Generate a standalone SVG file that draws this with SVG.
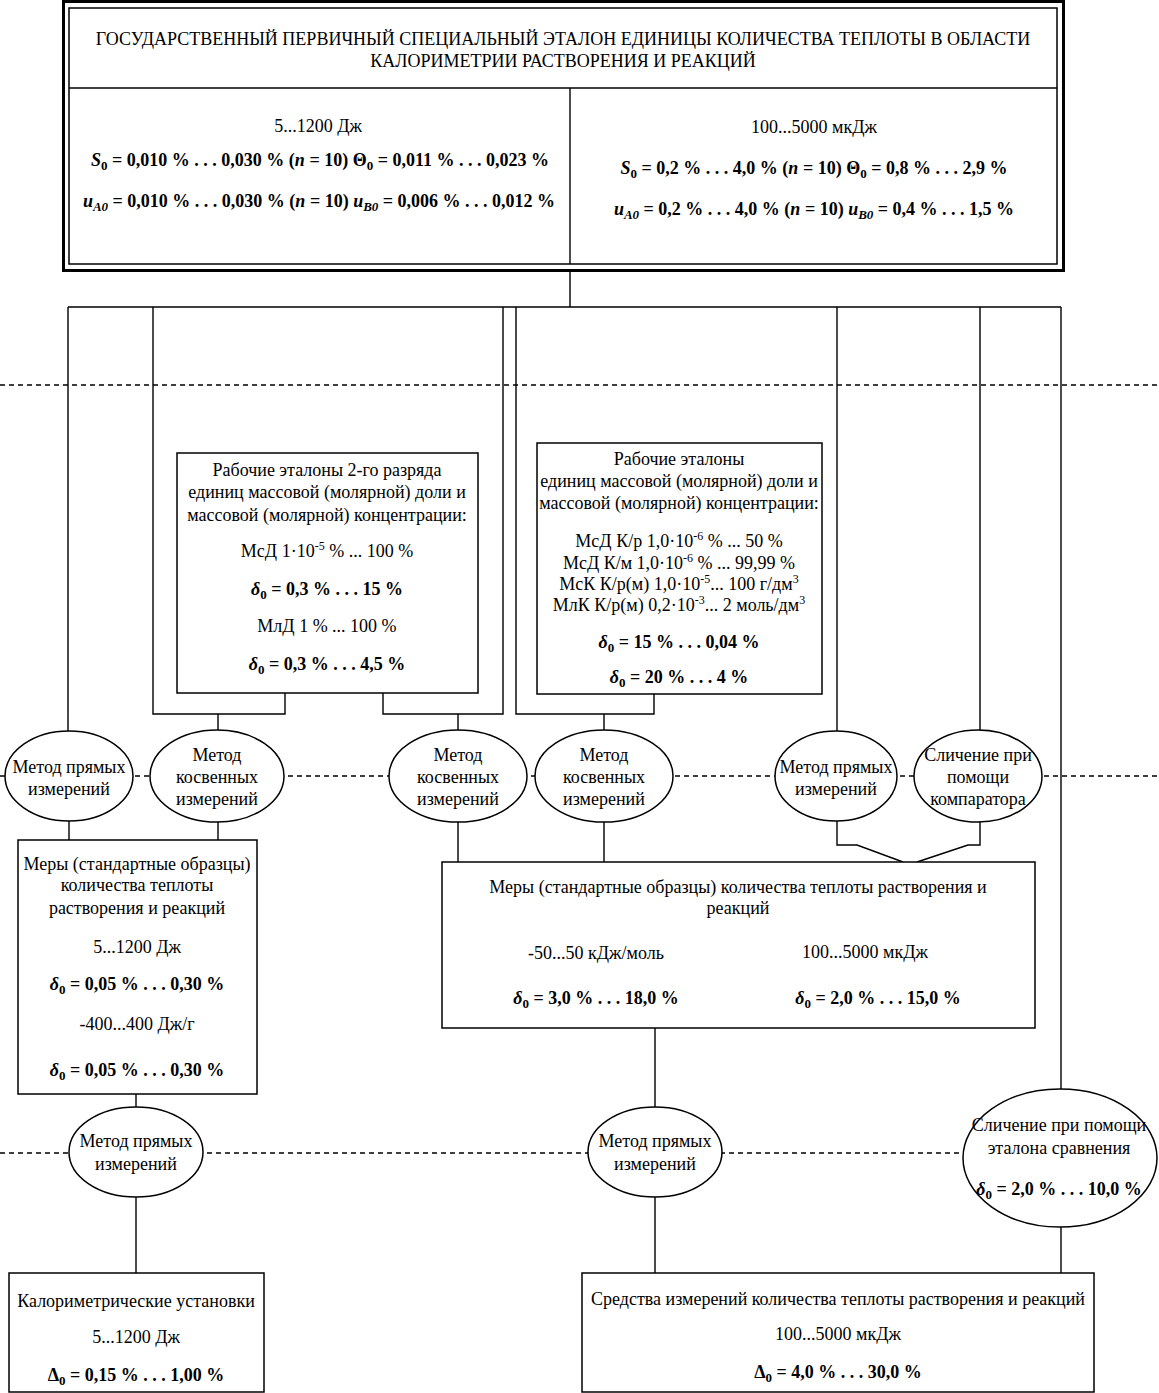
<svg xmlns="http://www.w3.org/2000/svg" width="1159" height="1393" viewBox="0 0 1159 1393" font-family="'Liberation Serif', serif">
<style>
.t{font-family:"Liberation Serif","Times New Roman",serif;font-size:18px;text-anchor:middle;fill:#000}
.h{font-size:18px}
.m{font-weight:bold}
.i{font-style:italic}
.box{fill:#fff;stroke:#000;stroke-width:1.5}
.ell{fill:#fff;stroke:#000;stroke-width:1.5}
.ln{fill:none;stroke:#000;stroke-width:1.4}
.dash{fill:none;stroke:#000;stroke-width:1.4;stroke-dasharray:5,4}
</style>
<rect width="1159" height="1393" fill="#fff"/>
<g id="dashed">
<line class="dash" x1="0" y1="385" x2="1159" y2="385"/>
<line class="dash" x1="0" y1="776" x2="1159" y2="776"/>
<line class="dash" x1="0" y1="1153" x2="1159" y2="1153"/>
</g>
<g id="connectors">
<path class="ln" d="M570,271 V307 M68,307 H1061 M68,307 V733 M153,307 V714 H285 V692 M218,714 V731 M503,307 V714 H383 V692 M458,714 V731 M516,307 V714 H654 V694 M604,714 V731 M837,307 V733 M980,307 V733 M1061,307 V1090"/>
<path class="ln" d="M69,820 V840 M218,822 V840 M458,822 V862 M604,822 V862 M837,820 V845 H857 L903,862 M980,822 V845 H968 L917,862"/>
<path class="ln" d="M136,1094 V1107 M136,1197 V1273 M655,1028 V1107 M655,1197 V1273 M1061,1227 V1273"/>
</g>
<g id="top">
<rect x="63.5" y="1.5" width="1000" height="269" fill="#fff" stroke="#000" stroke-width="3"/>
<rect x="69" y="8" width="988" height="256" fill="none" stroke="#000" stroke-width="1.5"/>
<line class="ln" x1="69" y1="88" x2="1057" y2="88"/>
<line class="ln" x1="570" y1="88" x2="570" y2="264"/>
<text class="t h" x="563" y="45">ГОСУДАРСТВЕННЫЙ ПЕРВИЧНЫЙ СПЕЦИАЛЬНЫЙ ЭТАЛОН ЕДИНИЦЫ КОЛИЧЕСТВА ТЕПЛОТЫ В ОБЛАСТИ</text>
<text class="t h" x="563" y="67">КАЛОРИМЕТРИИ РАСТВОРЕНИЯ И РЕАКЦИЙ</text>
<text class="t" x="318" y="132">5...1200 Дж</text>
<text class="t m" x="320" y="166"><tspan class="i">S</tspan><tspan font-size="13" dy="4">0</tspan><tspan dy="-4"> = 0,010 % . . . 0,030 % (</tspan><tspan class="i">n</tspan> = 10) Θ<tspan font-size="13" dy="4">0</tspan><tspan dy="-4"> = 0,011 % . . . 0,023 %</tspan></text>
<text class="t m" x="319" y="207"><tspan class="i">u</tspan><tspan class="i" font-size="13" dy="4">A0</tspan><tspan dy="-4"> = 0,010 % . . . 0,030 % (</tspan><tspan class="i">n</tspan> = 10) <tspan class="i">u</tspan><tspan class="i" font-size="13" dy="4">B0</tspan><tspan dy="-4"> = 0,006 % . . . 0,012 %</tspan></text>
<text class="t" x="814" y="133">100...5000 мкДж</text>
<text class="t m" x="814" y="174"><tspan class="i">S</tspan><tspan font-size="13" dy="4">0</tspan><tspan dy="-4"> = 0,2 % . . . 4,0 % (</tspan><tspan class="i">n</tspan> = 10) Θ<tspan font-size="13" dy="4">0</tspan><tspan dy="-4"> = 0,8 % . . . 2,9 %</tspan></text>
<text class="t m" x="814" y="215"><tspan class="i">u</tspan><tspan class="i" font-size="13" dy="4">A0</tspan><tspan dy="-4"> = 0,2 % . . . 4,0 % (</tspan><tspan class="i">n</tspan> = 10) <tspan class="i">u</tspan><tspan class="i" font-size="13" dy="4">B0</tspan><tspan dy="-4"> = 0,4 % . . . 1,5 %</tspan></text>
</g>
<g id="box1">
<rect class="box" x="177" y="453" width="301" height="240"/>
<text class="t" x="327" y="476">Рабочие эталоны 2-го разряда</text>
<text class="t" x="327" y="498">единиц массовой (молярной) доли и</text>
<text class="t" x="327" y="521">массовой (молярной) концентрации:</text>
<text class="t" x="327" y="557">МсД 1·10<tspan font-size="12" dy="-7">-5</tspan><tspan dy="7"> % ... 100 %</tspan></text>
<text class="t m" x="327" y="595"><tspan class="i">δ</tspan><tspan font-size="13" dy="4">0</tspan><tspan dy="-4"> = 0,3 % . . . 15 %</tspan></text>
<text class="t" x="327" y="632">МлД 1 % ... 100 %</text>
<text class="t m" x="327" y="670"><tspan class="i">δ</tspan><tspan font-size="13" dy="4">0</tspan><tspan dy="-4"> = 0,3 % . . . 4,5 %</tspan></text>
</g>
<g id="box2">
<rect class="box" x="537" y="443" width="285" height="251"/>
<text class="t" x="679" y="465">Рабочие эталоны</text>
<text class="t" x="679" y="487">единиц массовой (молярной) доли и</text>
<text class="t" x="679" y="509">массовой (молярной) концентрации:</text>
<text class="t" x="679" y="547">МсД К/р 1,0·10<tspan font-size="12" dy="-7">-6</tspan><tspan dy="7"> % ... 50 %</tspan></text>
<text class="t" x="679" y="569">МсД К/м 1,0·10<tspan font-size="12" dy="-7">-6</tspan><tspan dy="7"> % ... 99,99 %</tspan></text>
<text class="t" x="679" y="590">МсК К/р(м) 1,0·10<tspan font-size="12" dy="-7">-5</tspan><tspan dy="7">... 100 г/дм</tspan><tspan font-size="12" dy="-7">3</tspan></text>
<text class="t" x="679" y="611">МлК К/р(м) 0,2·10<tspan font-size="12" dy="-7">-3</tspan><tspan dy="7">... 2 моль/дм</tspan><tspan font-size="12" dy="-7">3</tspan></text>
<text class="t m" x="679" y="648"><tspan class="i">δ</tspan><tspan font-size="13" dy="4">0</tspan><tspan dy="-4"> = 15 % . . . 0,04 %</tspan></text>
<text class="t m" x="679" y="683"><tspan class="i">δ</tspan><tspan font-size="13" dy="4">0</tspan><tspan dy="-4"> = 20 % . . . 4 %</tspan></text>
</g>
<g id="e1"><ellipse class="ell" cx="69" cy="776" rx="64" ry="45"/>
<text class="t" x="69" y="773">Метод прямых</text><text class="t" x="69" y="795">измерений</text></g>
<g id="e2"><ellipse class="ell" cx="217" cy="776" rx="67" ry="46"/>
<text class="t" x="217" y="761">Метод</text><text class="t" x="217" y="783">косвенных</text><text class="t" x="217" y="805">измерений</text></g>
<g id="e3"><ellipse class="ell" cx="458" cy="776" rx="69" ry="46"/>
<text class="t" x="458" y="761">Метод</text><text class="t" x="458" y="783">косвенных</text><text class="t" x="458" y="805">измерений</text></g>
<g id="e4"><ellipse class="ell" cx="604" cy="776" rx="69" ry="46"/>
<text class="t" x="604" y="761">Метод</text><text class="t" x="604" y="783">косвенных</text><text class="t" x="604" y="805">измерений</text></g>
<g id="e5"><ellipse class="ell" cx="836" cy="776" rx="61" ry="45"/>
<text class="t" x="836" y="773">Метод прямых</text><text class="t" x="836" y="795">измерений</text></g>
<g id="e6"><ellipse class="ell" cx="978" cy="776" rx="64" ry="46"/>
<text class="t" x="978" y="761">Сличение при</text><text class="t" x="978" y="783">помощи</text><text class="t" x="978" y="805">компаратора</text></g>
<g id="box3">
<rect class="box" x="18" y="840" width="239" height="254"/>
<text class="t" x="137" y="870">Меры (стандартные образцы)</text>
<text class="t" x="137" y="891">количества теплоты</text>
<text class="t" x="137" y="914">растворения и реакций</text>
<text class="t" x="137" y="953">5...1200 Дж</text>
<text class="t m" x="137" y="990"><tspan class="i">δ</tspan><tspan font-size="13" dy="4">0</tspan><tspan dy="-4"> = 0,05 % . . . 0,30 %</tspan></text>
<text class="t" x="137" y="1030">-400...400 Дж/г</text>
<text class="t m" x="137" y="1076"><tspan class="i">δ</tspan><tspan font-size="13" dy="4">0</tspan><tspan dy="-4"> = 0,05 % . . . 0,30 %</tspan></text>
</g>
<g id="box4">
<rect class="box" x="442" y="862" width="593" height="166"/>
<text class="t" x="738" y="893">Меры (стандартные образцы) количества теплоты растворения и</text>
<text class="t" x="738" y="914">реакций</text>
<text class="t" x="596" y="959">-50...50 кДж/моль</text>
<text class="t" x="865" y="958">100...5000 мкДж</text>
<text class="t m" x="596" y="1004"><tspan class="i">δ</tspan><tspan font-size="13" dy="4">0</tspan><tspan dy="-4"> = 3,0 % . . . 18,0 %</tspan></text>
<text class="t m" x="878" y="1004"><tspan class="i">δ</tspan><tspan font-size="13" dy="4">0</tspan><tspan dy="-4"> = 2,0 % . . . 15,0 %</tspan></text>
</g>
<g id="e7"><ellipse class="ell" cx="136" cy="1152" rx="67" ry="45"/>
<text class="t" x="136" y="1147">Метод прямых</text><text class="t" x="136" y="1170">измерений</text></g>
<g id="e8"><ellipse class="ell" cx="655" cy="1152" rx="67" ry="45"/>
<text class="t" x="655" y="1147">Метод прямых</text><text class="t" x="655" y="1170">измерений</text></g>
<g id="e9"><ellipse class="ell" cx="1060" cy="1158" rx="97" ry="69"/>
<text class="t" x="1059" y="1131">Сличение при помощи</text><text class="t" x="1059" y="1154">эталона сравнения</text>
<text class="t m" x="1059" y="1195"><tspan class="i">δ</tspan><tspan font-size="13" dy="4">0</tspan><tspan dy="-4"> = 2,0 % . . . 10,0 %</tspan></text></g>
<g id="box5">
<rect class="box" x="9" y="1273" width="255" height="119"/>
<text class="t" x="136" y="1307">Калориметрические установки</text>
<text class="t" x="136" y="1343">5...1200 Дж</text>
<text class="t m" x="136" y="1381">Δ<tspan font-size="13" dy="4">0</tspan><tspan dy="-4"> = 0,15 % . . . 1,00 %</tspan></text>
</g>
<g id="box6">
<rect class="box" x="582" y="1273" width="512" height="119"/>
<text class="t" x="838" y="1305">Средства измерений количества теплоты растворения и реакций</text>
<text class="t" x="838" y="1340">100...5000 мкДж</text>
<text class="t m" x="838" y="1378">Δ<tspan font-size="13" dy="4">0</tspan><tspan dy="-4"> = 4,0 % . . . 30,0 %</tspan></text>
</g>
</svg>
